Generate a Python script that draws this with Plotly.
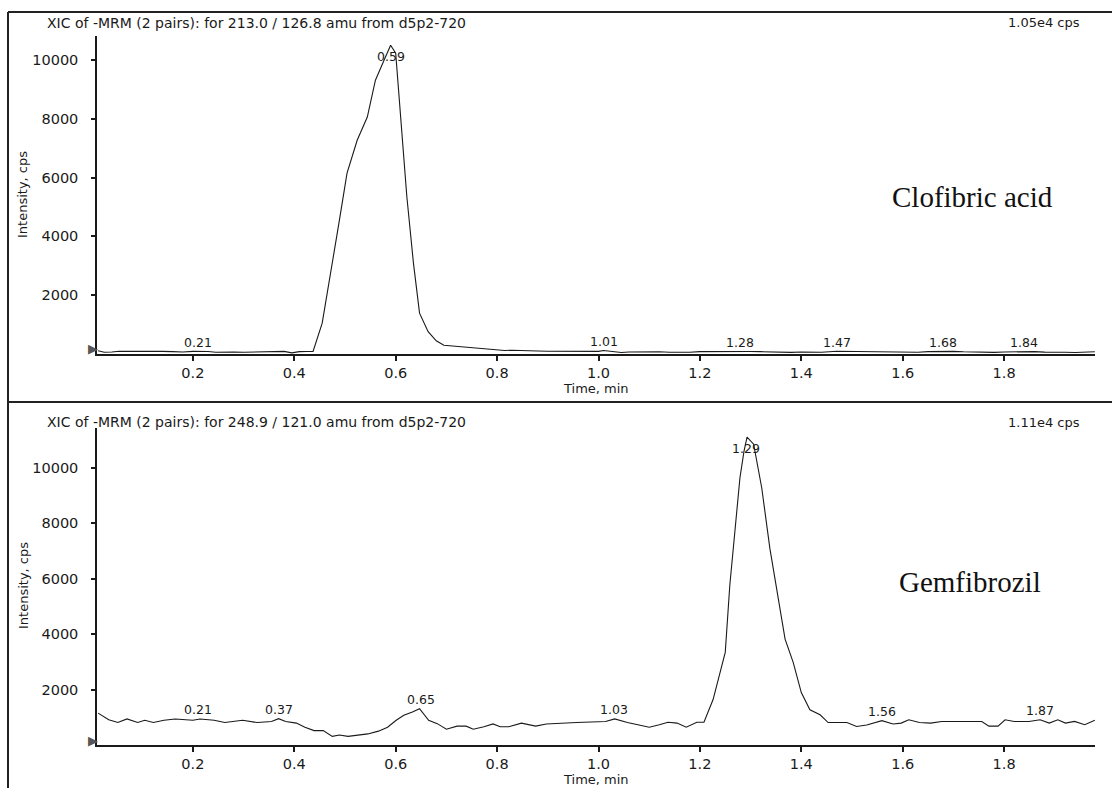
import numpy as np
import plotly.graph_objects as go

# ---------------- data ----------------
top_header = "XIC of -MRM (2 pairs): for 213.0 / 126.8 amu from d5p2-720"
bot_header = "XIC of -MRM (2 pairs): for 248.9 / 121.0 amu from d5p2-720"
top_compound = "Clofibric acid"
bot_compound = "Gemfibrozil"

top_time = [0.013, 0.025, 0.04, 0.055, 0.07, 0.085, 0.10, 0.12, 0.14, 0.16, 0.18, 0.20,
            0.215, 0.23, 0.245, 0.26, 0.28, 0.30, 0.32, 0.34, 0.36, 0.38, 0.395, 0.41,
            0.425, 0.437, 0.455, 0.471, 0.488, 0.504, 0.524, 0.544, 0.56, 0.577, 0.59,
            0.60, 0.609, 0.622, 0.635, 0.647, 0.664, 0.68, 0.695, 0.715, 0.733, 0.75,
            0.77, 0.785, 0.80, 0.815, 0.83, 0.85, 0.865, 0.88, 0.90, 0.92, 0.94, 0.96,
            0.98, 1.00, 1.01, 1.025, 1.045, 1.06, 1.08, 1.10, 1.12, 1.14, 1.16, 1.18,
            1.20, 1.22, 1.24, 1.26, 1.28, 1.30, 1.32, 1.34, 1.36, 1.38, 1.40, 1.42,
            1.44, 1.47, 1.49, 1.51, 1.53, 1.55, 1.57, 1.59, 1.61, 1.63, 1.65, 1.68,
            1.70, 1.72, 1.74, 1.76, 1.78, 1.80, 1.82, 1.84, 1.86, 1.88, 1.90, 1.92,
            1.94, 1.96, 1.979]
top_intensity = [110, 60, 70, 95, 90, 95, 90, 85, 90, 80, 70, 90,
                 100, 85, 60, 75, 70, 60, 65, 80, 60, 90, 40, 80,
                 85, 90, 1050, 2630, 4450, 6150, 7270, 8060, 9310, 9990, 10500,
                 10230, 8190, 5350, 3090, 1390, 760, 450, 300, 270, 250, 220,
                 190, 170, 150, 120, 130, 110, 120, 100, 95, 90, 85, 80,
                 85, 90, 120, 95, 50, 70, 80, 80, 75, 60, 55, 60,
                 80, 85, 85, 90, 95, 85, 80, 70, 60, 55, 70, 75,
                 60, 95, 90, 80, 70, 60, 55, 65, 50, 60, 80, 95,
                 90, 75, 65, 60, 55, 70, 80, 95, 80, 65, 70, 60,
                 50, 60, 75]

bot_time = [0.013, 0.034, 0.052, 0.07, 0.091, 0.105, 0.122, 0.143, 0.165, 0.186, 0.20,
            0.214, 0.242, 0.263, 0.298, 0.327, 0.355, 0.369, 0.383, 0.404, 0.421, 0.439,
            0.457, 0.475, 0.489, 0.506, 0.524, 0.545, 0.566, 0.584, 0.601, 0.616, 0.633,
            0.647, 0.665, 0.682, 0.70, 0.721, 0.739, 0.753, 0.774, 0.792, 0.806, 0.823,
            0.848, 0.876, 0.897, 0.924, 0.957, 0.985, 1.014, 1.032, 1.057, 1.08, 1.10,
            1.12, 1.137, 1.155, 1.173, 1.194, 1.208, 1.226, 1.24, 1.25, 1.259, 1.269,
            1.279, 1.287, 1.293, 1.306, 1.322, 1.338, 1.355, 1.368, 1.384, 1.40, 1.417,
            1.437, 1.453, 1.49, 1.509, 1.529, 1.559, 1.581, 1.597, 1.612, 1.633, 1.655,
            1.677, 1.70, 1.73, 1.756, 1.77, 1.788, 1.802, 1.82, 1.849, 1.871, 1.889,
            1.906, 1.921, 1.939, 1.959, 1.979]
bot_intensity = [1150, 910, 810, 940, 810, 890, 810, 890, 940, 910, 890,
                 940, 890, 810, 890, 810, 850, 950, 850, 790, 640, 520,
                 520, 310, 360, 310, 360, 400, 500, 640, 890, 1070, 1190,
                 1310, 890, 770, 570, 680, 680, 570, 660, 760, 660, 660,
                 790, 680, 760, 790, 810, 830, 850, 940, 810, 720, 640,
                 730, 820, 790, 640, 820, 820, 1640, 2610, 3340, 5760, 7820,
                 9640, 10600, 11100, 10850, 9270, 7090, 5270, 3820, 2980, 1890, 1270,
                 1090, 810, 810, 670, 720, 880, 760, 790, 910, 810, 790,
                 850, 850, 850, 850, 680, 680, 910, 850, 850, 910, 790,
                 910, 790, 850, 730, 890]

top_peak_labels = [0.21, 0.59, 1.01, 1.28, 1.47, 1.68, 1.84]
bot_peak_labels = [0.21, 0.37, 0.65, 1.03, 1.29, 1.56, 1.87]

x_ticks = [0.2, 0.4, 0.6, 0.8, 1.0, 1.2, 1.4, 1.6, 1.8]
x_ticktext = ["0.2", "0.4", "0.6", "0.8", "1.0", "1.2", "1.4", "1.6", "1.8"]
y_ticks = [2000, 4000, 6000, 8000, 10000]
y_ticktext = ["2000", "4000", "6000", "8000", "10000"]
x_title = "Time, min"
y_title = "Intensity, cps"

# ---------------- layout helpers ----------------
W, H = 1112, 788
FONT = "DejaVu Sans"
INK = "#1a1a1a"


def px(x):
    return x / W


def py(y):
    return 1 - y / H


def cps_text(vals):
    m = max(vals)
    mant, exp = f"{m:.2e}".split("e")
    return f"{mant}e{int(exp)} cps"


fig = go.Figure()
fig.add_trace(go.Scatter(x=top_time, y=top_intensity, mode="lines",
                         line=dict(color=INK, width=1.1), xaxis="x", yaxis="y",
                         hoverinfo="skip", showlegend=False))
fig.add_trace(go.Scatter(x=bot_time, y=bot_intensity, mode="lines",
                         line=dict(color=INK, width=1.1), xaxis="x2", yaxis="y2",
                         hoverinfo="skip", showlegend=False))

x_lo = (97 - 91.5) / 507
x_hi = (1095 - 91.5) / 507

xcommon = dict(range=[x_lo, x_hi], tickvals=x_ticks, ticktext=x_ticktext,
               ticks="outside", ticklen=5, tickwidth=1.5, tickcolor=INK,
               showline=True, linecolor=INK, linewidth=1.5, showgrid=False,
               zeroline=False, tickfont=dict(family=FONT, size=14.5, color=INK),
               ticklabelstandoff=0, fixedrange=True)
ycommon = dict(tickvals=y_ticks, ticktext=y_ticktext, ticks="outside", ticklen=4,
               tickwidth=1.5, tickcolor=INK, showline=True, linecolor=INK,
               linewidth=1.5, showgrid=False, zeroline=False,
               tickfont=dict(family=FONT, size=14.5, color=INK),
               ticklabelstandoff=10, fixedrange=True)

fig.update_layout(
    width=W, height=H, margin=dict(l=0, r=0, t=0, b=0),
    paper_bgcolor="white", plot_bgcolor="white", showlegend=False,
    xaxis=dict(domain=[px(97), px(1095)], anchor="y", **xcommon),
    yaxis=dict(domain=[py(354), py(36)], anchor="x",
               range=[0, max(top_intensity) * 1.03], **ycommon),
    xaxis2=dict(domain=[px(97), px(1095)], anchor="y2", **xcommon),
    yaxis2=dict(domain=[py(745), py(428)], anchor="x2",
                range=[0, max(bot_intensity) * 1.03], **ycommon),
)

# frame lines
frame = dict(color="#222", width=2)
fig.add_shape(type="line", xref="paper", yref="paper", x0=px(8), x1=1, y0=py(12), y1=py(12), line=frame)
fig.add_shape(type="line", xref="paper", yref="paper", x0=px(8), x1=px(8), y0=py(12), y1=0, line=frame)
fig.add_shape(type="line", xref="paper", yref="paper", x0=px(8), x1=1, y0=py(402), y1=py(402), line=frame)

ann = []
for hdr, vals, yh in [(top_header, top_intensity, 23), (bot_header, bot_intensity, 422)]:
    ann.append(dict(text=hdr, x=px(45), y=py(yh), xref="paper", yref="paper",
                    xanchor="left", yanchor="middle", showarrow=False,
                    font=dict(family=FONT, size=14, color=INK)))
    ann.append(dict(text=cps_text(vals), x=px(1082), y=py(yh), xref="paper", yref="paper",
                    xanchor="right", yanchor="middle", showarrow=False,
                    font=dict(family=FONT, size=13, color=INK)))

for yt in [195, 586]:
    ann.append(dict(text=y_title, x=px(23), y=py(yt), xref="paper", yref="paper",
                    textangle=-90, xanchor="center", yanchor="middle", showarrow=False,
                    font=dict(family=FONT, size=13, color=INK)))
for yt in [388, 779]:
    ann.append(dict(text=x_title, x=px(596), y=py(yt), xref="paper", yref="paper",
                    xanchor="center", yanchor="middle", showarrow=False,
                    font=dict(family=FONT, size=13, color=INK)))
for yt in [348, 740]:
    ann.append(dict(text="\u25B6", x=px(93), y=py(yt), xref="paper", yref="paper",
                    xanchor="center", yanchor="middle", showarrow=False,
                    font=dict(family=FONT, size=13, color="#555")))

ann.append(dict(text=top_compound, x=px(972), y=py(197), xref="paper", yref="paper",
                xanchor="center", yanchor="middle", showarrow=False,
                font=dict(family="Liberation Serif", size=29, color="#111")))
ann.append(dict(text=bot_compound, x=px(970), y=py(582), xref="paper", yref="paper",
                xanchor="center", yanchor="middle", showarrow=False,
                font=dict(family="Liberation Serif", size=29, color="#111")))

# peak retention-time labels placed at the local maximum of each series
for labels, t_arr, v_arr, xr, yr in [(top_peak_labels, top_time, top_intensity, "x", "y"),
                                     (bot_peak_labels, bot_time, bot_intensity, "x2", "y2")]:
    t_np = np.array(t_arr)
    v_np = np.array(v_arr)
    vmax = v_np.max()
    for lab in labels:
        win = np.abs(t_np - lab) <= 0.02
        v = v_np[win].max() if win.any() else float(np.interp(lab, t_np, v_np))
        big = v > 0.9 * vmax
        ann.append(dict(text=f"{lab:.2f}", x=lab, y=v, xref=xr, yref=yr,
                        xanchor="center", yanchor="middle", showarrow=False,
                        yshift=-11 if big else 9,
                        font=dict(family=FONT, size=12.5, color=INK)))

fig.update_layout(annotations=ann)

fig.write_html("out.html", config={"displayModeBar": False},
               post_script="document.body.style.margin='0';")
